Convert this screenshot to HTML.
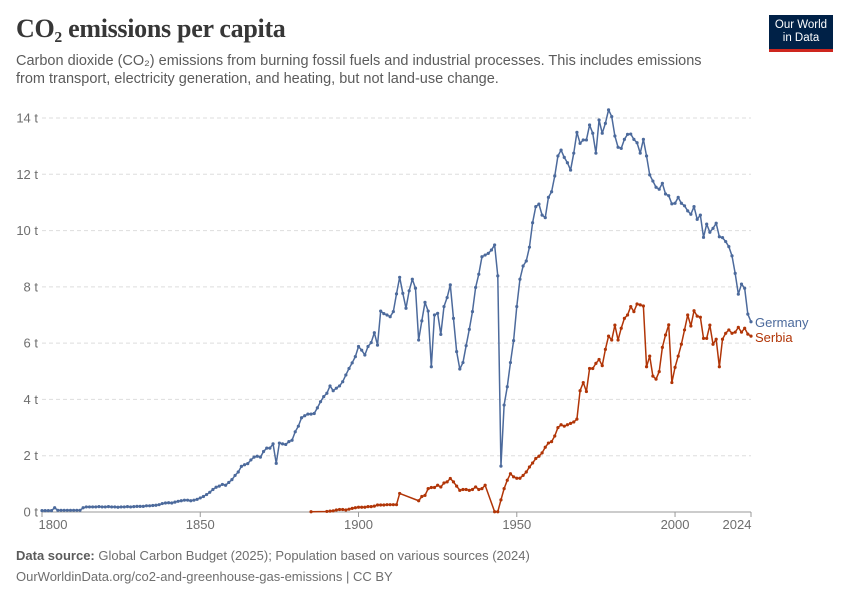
<!DOCTYPE html>
<html><head><meta charset="utf-8">
<style>
body{margin:0;background:#fff;width:850px;height:600px;overflow:hidden;font-family:"Liberation Sans",sans-serif;}
#wrap{position:relative;width:850px;height:600px;}
.title{position:absolute;left:16px;top:14px;font-family:"Liberation Serif",serif;font-size:26px;color:#373737;margin:0;font-weight:bold;letter-spacing:-0.3px}
.sub{position:absolute;left:16px;top:52px;font-size:14.5px;color:#5b5b5b;line-height:18px;width:700px}
.logo{position:absolute;left:769px;top:15px;width:64px;background:#002147;color:#fff;font-size:11.5px;line-height:13px;text-align:center;padding-top:4px;box-sizing:border-box;border-bottom:3px solid #ce261e;height:37px}
.foot{position:absolute;left:16px;font-size:13px;color:#6e6e6e}
</style></head><body>
<div id="wrap">
<h1 class="title">CO₂ emissions per capita</h1>
<div class="sub">Carbon dioxide (CO₂) emissions from burning fossil fuels and industrial processes. This includes emissions from transport, electricity generation, and heating, but not land-use change.</div>
<div class="logo">Our World<br>in Data</div>
<svg id="chart" width="850" height="600" style="position:absolute;left:0;top:0"></svg>
<div class="foot" style="top:548px"><b style="color:#5b5b5b">Data source:</b> Global Carbon Budget (2025); Population based on various sources (2024)</div>
<div class="foot" style="top:569px">OurWorldinData.org/co2-and-greenhouse-gas-emissions | CC BY</div>
</div>
<script>
const startYear = 1800;
const germanyValues = [
0.05,0.05,0.05,0.05,0.15,0.06,0.06,0.06,0.06,0.06,0.06,0.06,0.06,0.15,0.18,0.18,0.18,0.18,0.19,0.18,
0.18,0.19,0.18,0.18,0.17,0.18,0.18,0.19,0.18,0.19,0.2,0.2,0.2,0.22,0.22,0.23,0.24,0.26,0.3,0.32,
0.33,0.32,0.35,0.38,0.4,0.42,0.42,0.4,0.42,0.45,0.5,0.55,0.62,0.7,0.8,0.88,0.92,0.98,0.95,1.05,
1.15,1.3,1.42,1.62,1.68,1.72,1.85,1.95,1.98,1.95,2.15,2.27,2.27,2.42,1.73,2.45,2.42,2.4,2.5,2.55,
2.85,3.05,3.35,3.42,3.48,3.48,3.5,3.7,3.92,4.1,4.22,4.48,4.31,4.4,4.48,4.63,4.87,5.1,5.3,5.52,
5.88,5.75,5.58,5.88,6.02,6.37,5.93,7.14,7.05,7.0,6.94,7.12,7.75,8.34,7.77,7.24,7.86,8.27,7.95,6.11,
6.79,7.45,7.14,5.16,7.0,7.06,6.31,7.3,7.62,8.07,6.88,5.7,5.08,5.31,5.91,6.49,7.12,7.98,8.45,9.07,
9.13,9.19,9.31,9.49,8.39,1.63,3.8,4.45,5.31,6.09,7.3,8.27,8.74,8.92,9.41,10.28,10.85,10.94,10.55,10.46,
11.18,11.38,11.94,12.65,12.86,12.6,12.41,12.15,12.75,13.49,13.1,13.22,13.22,13.75,13.46,12.75,13.93,13.46,13.81,14.29,
14.05,13.36,12.96,12.92,13.24,13.42,13.43,13.24,13.12,12.75,13.24,12.65,11.98,11.76,11.54,11.47,11.68,11.3,11.24,10.95,
10.97,11.18,10.97,10.88,10.7,10.58,10.85,10.4,10.55,9.76,10.23,9.94,10.08,10.26,9.78,9.75,9.61,9.43,9.1,8.48,
7.74,8.1,7.95,7.03,6.76];
const serbiaStart = 1885;
const serbiaValues = [
0.01,null,null,null,null,0.02,0.03,0.04,0.07,0.09,0.09,0.07,0.1,0.13,0.15,
0.17,0.17,0.17,0.19,0.19,0.21,0.25,0.25,0.25,0.26,0.26,0.26,0.26,0.66,null,null,null,null,null,0.4,
0.55,0.59,0.83,0.87,0.87,0.95,0.89,1.03,1.07,1.19,1.07,0.92,0.77,0.8,0.8,0.77,0.8,0.89,0.8,0.83,
0.95,null,null,0.01,0.01,0.43,0.83,1.13,1.36,1.25,1.2,1.2,1.3,1.42,1.6,1.74,1.9,1.98,2.1,2.3,
2.45,2.5,2.7,3.0,3.1,3.05,3.1,3.15,3.2,3.3,4.31,4.6,4.28,5.1,5.1,5.28,5.42,5.2,5.78,6.25,
6.11,6.64,6.11,6.53,6.88,7.0,7.3,7.12,7.39,7.36,7.32,5.16,5.54,4.83,4.72,4.99,5.85,6.29,6.65,4.6,
5.14,5.54,5.96,6.47,7.0,6.61,7.15,6.96,6.92,6.17,6.17,6.64,5.96,6.14,5.16,6.14,6.35,6.47,6.35,6.39,
6.56,6.39,6.53,6.32,6.25];
const yTicks = [0,2,4,6,8,10,12,14];
const yTickLabels = ["0 t","2 t","4 t","6 t","8 t","10 t","12 t","14 t"];
const xTicks = [1800,1850,1900,1950,2000,2024];
const seriesNames = ["Germany","Serbia"];

const NS="http://www.w3.org/2000/svg";
const svg=document.getElementById('chart');
const X0=42,X1=751,Y0=512,Y1=118;
const xs=y=>X0+(y-1800)/(2024-1800)*(X1-X0);
const ys=v=>Y0-v/14*(Y0-Y1);
function mk(t,a){const e=document.createElementNS(NS,t);for(const k in a)e.setAttribute(k,a[k]);svg.appendChild(e);return e;}
yTicks.forEach((v,i)=>{
  if(v>0){const g=mk('line',{x1:X0,x2:X1,y1:ys(v),y2:ys(v),stroke:'#dddddd','stroke-dasharray':'4,3'});
  
  }
  const t=mk('text',{x:38,y:ys(v)+4.5,'text-anchor':'end','font-size':13,fill:'#6e6e6e','font-family':'Liberation Sans'});
  t.textContent=yTickLabels[i];
  
  
});
const ax=mk('line',{x1:X0,x2:X1,y1:Y0,y2:Y0,stroke:'#999'});


xTicks.forEach(y=>{
  const tk=mk('line',{x1:xs(y),x2:xs(y),y1:Y0,y2:Y0+5,stroke:'#999'});
  
  
  const lx=y===2024?737:(y===1800?xs(y)+11:xs(y));
  const t=mk('text',{x:lx,y:529,'text-anchor':'middle','font-size':13,fill:'#6e6e6e','font-family':'Liberation Sans'});
  t.textContent=y;
  
  
});
function drawSeries(start,vals,color,name,labelY){
  let d='';
  vals.forEach((v,i)=>{if(v===null)return;d+=(d?'L':'M')+xs(start+i).toFixed(2)+','+ys(v).toFixed(2);});
  const p=mk('path',{d:d,fill:'none',stroke:color,'stroke-width':1.5,'stroke-linejoin':'round'});
  
  
  vals.forEach((v,i)=>{if(v===null)return;
    const c=mk('circle',{cx:xs(start+i),cy:ys(v),r:1.6,fill:color});
    
    
  });
  const t=mk('text',{x:755,y:labelY,'font-size':13,fill:color,'font-family':'Liberation Sans'});
  t.textContent=name;
  
  
}
drawSeries(startYear,germanyValues,'#4c6a9c',seriesNames[0],327);
drawSeries(serbiaStart,serbiaValues,'#b13507',seriesNames[1],342);
</script>
</body></html>
